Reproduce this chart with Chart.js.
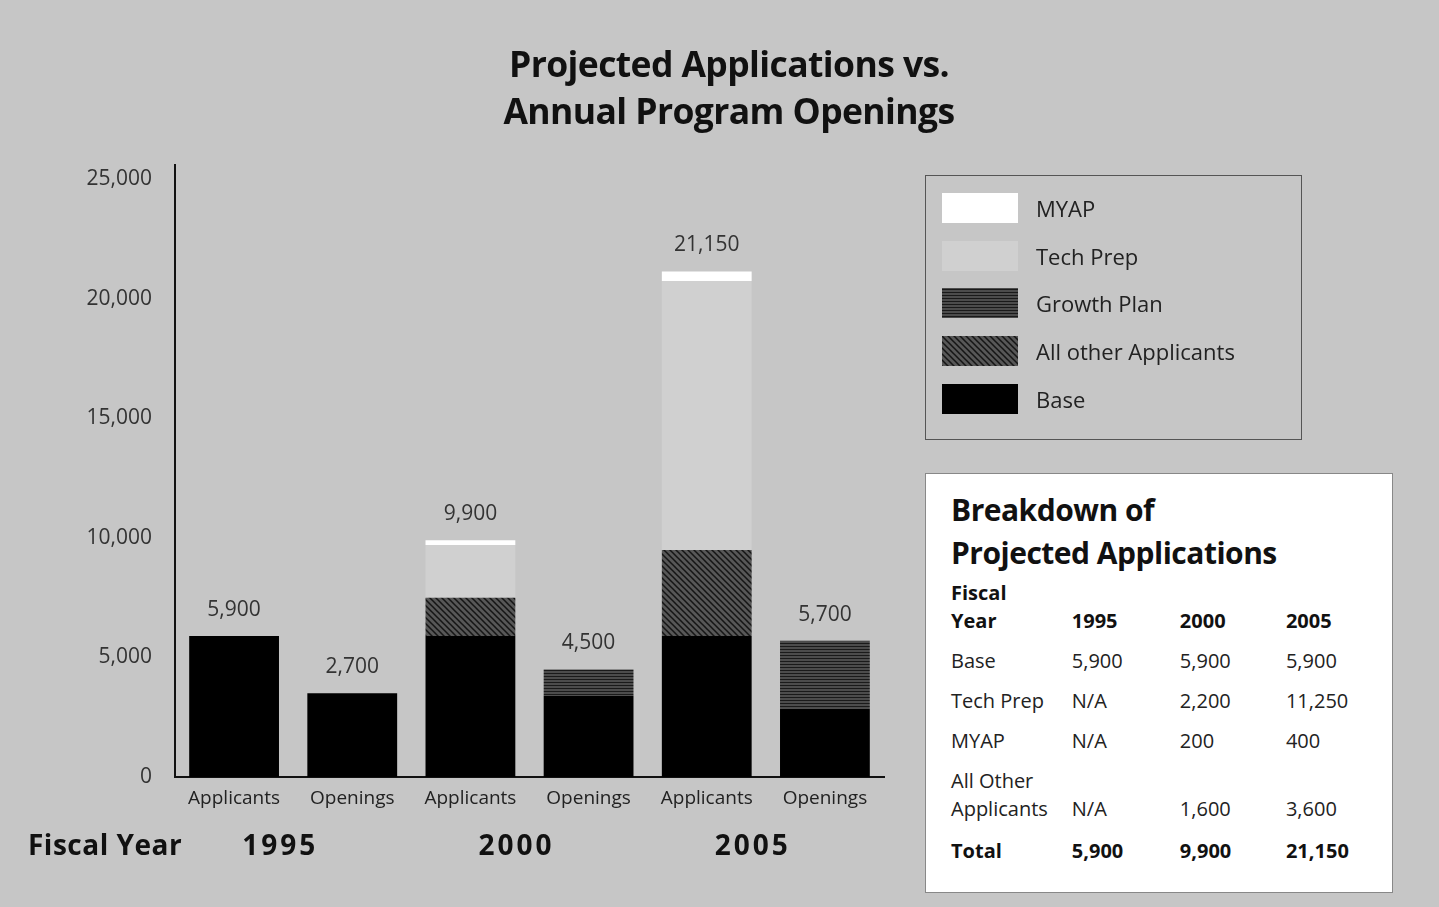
<!DOCTYPE html>
<html>
<head>
<meta charset="utf-8">
<script src="https://cdn.jsdelivr.net/npm/chart.js@4.4.1/dist/chart.umd.min.js"></script>
<style>
  html, body { margin: 0; padding: 0; }
  body { width: 1439px; height: 907px; background: #c6c6c6; position: relative; overflow: hidden; font-family: "Open Sans", "Noto Sans", sans-serif; color: #1a1a1a; }
  #chart { position: absolute; left: 0; top: 0; }
  .title { position: absolute; left: 0; width: 1458px; top: 40px; text-align: center; font-weight: 700; font-size: 35.5px; line-height: 47px; letter-spacing: -0.6px; color: #111; }
  .legend { position: absolute; left: 925px; top: 175px; width: 377px; height: 265px; border: 1px solid #555; box-sizing: border-box; padding-top: 8px; }
  .legend .row { height: 47.7px; display: flex; align-items: center; }
  .legend canvas { margin-left: 16px; margin-right: 18px; }
  .legend span { font-size: 22px; color: #222; }
  .table { position: absolute; left: 925px; top: 473px; width: 468px; height: 420px; background: #fff; border: 1px solid #888; box-sizing: border-box; padding: 14px 0 0 25px; }
  .table h2 { margin: 0 0 5px 0; font-size: 30px; line-height: 43px; font-weight: 700; letter-spacing: -0.5px; color: #111; }
  .table .r { display: flex; align-items: flex-end; font-size: 20px; color: #222; line-height: 28px; }
  .table .r div { width: 108px; }
  .table .r div:first-child { width: 123px; }
  .table .r div:nth-child(2) { width: 110px; }
  .table .b { font-weight: 700; color: #111; }
</style>
</head>
<body>
<canvas id="chart" width="1439" height="907"></canvas>
<div class="title">Projected Applications vs.<br>Annual Program Openings</div>
<div class="legend" id="legend"></div>
<div class="table" id="table"></div>
<script>
// data, by fiscal year
const years = ["1995", "2000", "2005"];
const barKinds = ["Applicants", "Openings"];

const appBase = [5900, 5900, 5900];
const appTechPrep = [null, 2200, 11250];
const appMyap = [null, 200, 400];
const appOther = [null, 1600, 3600];

const openBase = [3500, 3400, 2850];
const openGrowth = [0, 1100, 2850];
const openLabels = ["2,700", "4,500", "5,700"];

const yTicks = [0, 5000, 10000, 15000, 20000, 25000];

// hatch patterns
function hatch(bg, line, dir) {
  const c = document.createElement("canvas");
  c.width = 6; c.height = 6;
  const g = c.getContext("2d");
  g.fillStyle = bg; g.fillRect(0, 0, 6, 6);
  g.strokeStyle = line; g.lineWidth = 1.5;
  g.beginPath();
  if (dir === "h") {
    g.moveTo(0, 1.5); g.lineTo(6, 1.5);
    g.moveTo(0, 4.5); g.lineTo(6, 4.5);
  } else {
    g.moveTo(-1, -1); g.lineTo(7, 7);
    g.moveTo(-1, 5); g.lineTo(1, 7);
    g.moveTo(5, -1); g.lineTo(7, 1);
  }
  g.stroke();
  return g.createPattern(c, "repeat");
}

// interleave applicants/openings per year
function pair(a, o) {
  const out = [];
  for (let i = 0; i < years.length; i++) { out.push(a[i] || 0, o[i] || 0); }
  return out;
}
const none = [0, 0, 0];

const labels = [];
years.forEach(() => barKinds.forEach(k => labels.push(k)));

const datasets = [
  { label: "Base", data: pair(appBase, openBase), backgroundColor: "#000000" },
  { label: "All other Applicants", data: pair(appOther, none), backgroundColor: hatch("#575757", "#151515", "d") },
  { label: "Growth Plan", data: pair(none, openGrowth), backgroundColor: hatch("#5e5e5e", "#1a1a1a", "h") },
  { label: "Tech Prep", data: pair(appTechPrep, none), backgroundColor: "#d0d0d0" },
  { label: "MYAP", data: pair(appMyap, none), backgroundColor: "#ffffff" }
];

// label text above each stack
const totalLabels = [];
years.forEach((y, i) => {
  const t = appBase[i] + (appTechPrep[i] || 0) + (appMyap[i] || 0) + (appOther[i] || 0);
  totalLabels.push(t.toLocaleString("en-US"), openLabels[i]);
});

const font = '"Open Sans", "Noto Sans", sans-serif';

const stackLabels = {
  id: "stackLabels",
  afterDatasetsDraw(chart) {
    const { ctx, scales: { x, y } } = chart;
    ctx.save();
    ctx.font = "21px " + font;
    ctx.fillStyle = "#333";
    ctx.textAlign = "center";
    ctx.textBaseline = "middle";
    labels.forEach((l, i) => {
      let sum = 0;
      datasets.forEach(d => sum += d.data[i]);
      ctx.fillText(totalLabels[i], x.getPixelForValue(i), y.getPixelForValue(sum) - 26);
    });
    ctx.restore();
  }
};

const groupLabels = {
  id: "groupLabels",
  afterDraw(chart) {
    const { ctx, scales: { x } } = chart;
    ctx.save();
    ctx.font = "bold 28px " + font;
    ctx.fillStyle = "#111";
    ctx.textBaseline = "middle";
    ctx.textAlign = "left";
    ctx.letterSpacing = "0.5px";
    ctx.fillText("Fiscal Year", 28, x.bottom + 30);
    ctx.textAlign = "center";
    ctx.letterSpacing = "3px";
    years.forEach((yr, i) => {
      const cx = (x.getPixelForValue(2 * i) + x.getPixelForValue(2 * i + 1)) / 2;
      ctx.fillText(yr, cx - 13, x.bottom + 30);
    });
    ctx.restore();
  }
};

new Chart(document.getElementById("chart"), {
  type: "bar",
  data: { labels: labels, datasets: datasets },
  options: {
    responsive: false,
    animation: false,
    devicePixelRatio: 1,
    categoryPercentage: 1,
    barPercentage: 0.76,
    layout: { padding: { left: 0, right: 555, top: 165, bottom: 90 } },
    plugins: { legend: { display: false }, tooltip: { enabled: false } },
    scales: {
      x: {
        stacked: true,
        grid: { display: false, drawTicks: false },
        border: { color: "#111", width: 2 },
        ticks: { color: "#222", padding: 10, font: { size: 19, family: font } },
        afterFit: s => { s.height = 40; }
      },
      y: {
        stacked: true,
        min: 0,
        max: 25600,
        grid: { display: false, drawTicks: false },
        border: { color: "#111", width: 2 },
        ticks: { color: "#333", padding: 23, font: { size: 21, family: font }, callback: v => v.toLocaleString("en-US") },
        afterBuildTicks: s => { s.ticks = yTicks.map(v => ({ value: v })); },
        afterFit: s => { s.width = 175; }
      }
    }
  },
  plugins: [stackLabels, groupLabels]
});

// legend (top of stack first)
const legend = document.getElementById("legend");
datasets.slice().reverse().forEach(d => {
  const row = document.createElement("div");
  row.className = "row";
  const sw = document.createElement("canvas");
  sw.width = 76; sw.height = 30;
  const g = sw.getContext("2d");
  g.fillStyle = d.backgroundColor; g.fillRect(0, 0, 76, 30);
  const t = document.createElement("span");
  t.textContent = d.label;
  row.appendChild(sw); row.appendChild(t);
  legend.appendChild(row);
});

// breakdown table
const fmt = v => v == null ? "N/A" : v.toLocaleString("en-US");
const totals = years.map((y, i) => appBase[i] + (appTechPrep[i] || 0) + (appMyap[i] || 0) + (appOther[i] || 0));
const rows = [
  { name: "Fiscal<br>Year", vals: years, cls: "b", h: 56 },
  { name: "Base", vals: appBase.map(fmt), h: 40 },
  { name: "Tech Prep", vals: appTechPrep.map(fmt), h: 40 },
  { name: "MYAP", vals: appMyap.map(fmt), h: 40 },
  { name: "All Other<br>Applicants", vals: appOther.map(fmt), h: 68 },
  { name: "Total", vals: totals.map(fmt), cls: "b", h: 42 }
];
let html = "<h2>Breakdown of<br>Projected Applications</h2>";
rows.forEach(r => {
  html += '<div class="r ' + (r.cls || "") + '" style="height:' + r.h + 'px">' +
    "<div>" + r.name + "</div>" + r.vals.map(v => "<div>" + v + "</div>").join("") + "</div>";
});
document.getElementById("table").innerHTML = html;
</script>
</body>
</html>
